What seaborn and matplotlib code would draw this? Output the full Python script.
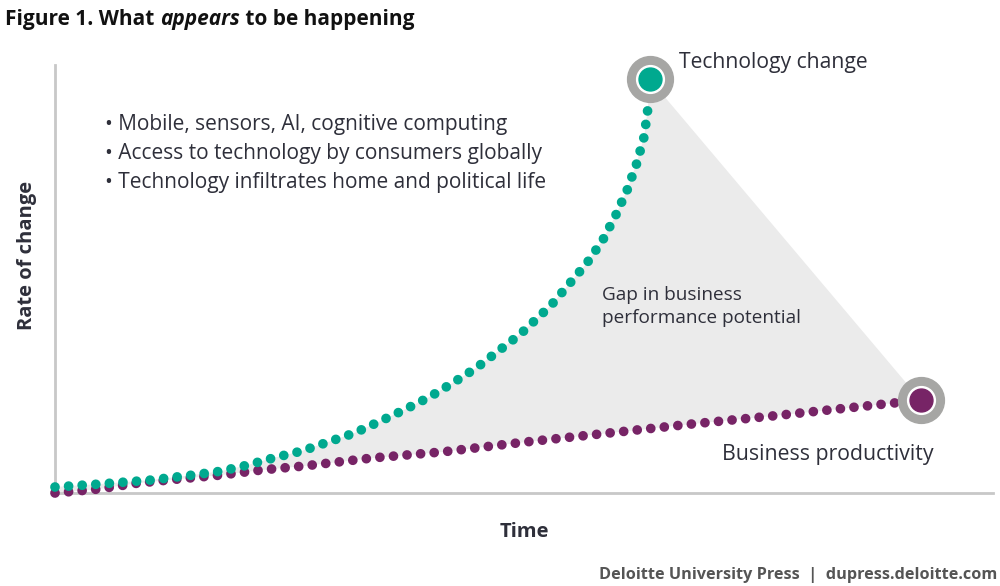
import matplotlib
matplotlib.use("Agg")
import matplotlib.pyplot as plt
import seaborn as sns

# values (time 0-100, rate 0-100)
tech_time = [0, 4.8, 10.1, 14.7, 17.7, 20.5, 23.3, 26.3, 29.1, 31.9, 34.5, 37.2,
             39.9, 42.4, 44.9, 47.4, 49.6, 52.9, 54.8, 56.7, 58.4, 59.8, 61.0,
             62.0, 62.8, 63.2, 63.4]
tech_rate = [1.4, 2.1, 3.0, 4.2, 5.1, 6.5, 8.2, 9.8, 11.9, 14.0, 16.6, 19.4,
             22.4, 25.7, 29.2, 33.4, 37.1, 43.9, 48.8, 53.7, 59.1, 65.0, 70.8,
             76.9, 83.2, 89.7, 96.7]
biz_time = [0, 4.5, 8.8, 13.3, 17.7, 22.1, 26.5, 33.9, 41.3, 50.1, 59.0, 67.8,
            76.5, 85.5, 92.3]
biz_rate = [0, 0.9, 2.3, 3.3, 4.2, 5.4, 6.3, 8.2, 9.6, 11.9, 14.0, 16.1,
            18.0, 20.1, 21.7]

bullets = ["• Mobile, sensors, AI, cognitive computing",
           "• Access to technology by consumers globally",
           "• Technology infiltrates home and political life"]

TEAL = "#00a98f"
PURPLE = "#772466"
RING = "#a6a6a4"
TXT = "#2e2f3a"

sns.set_style("white")
plt.rcParams["font.family"] = ["Open Sans", "DejaVu Sans"]

fig = plt.figure(figsize=(10, 5.86), dpi=100)
ax = fig.add_axes([0.055, 93 / 586, 0.938, 428 / 586])
ax.set_xlim(0, 100)
ax.set_ylim(0, 100)

# shaded gap between the two curves
ax.fill(tech_time + biz_time[::-1], tech_rate + biz_rate[::-1],
        color="#ebebeb", lw=0, zorder=1)

dots = (0, (0.001, 1.4))
sns.lineplot(x=biz_time, y=biz_rate, ax=ax, color=PURPLE, lw=7,
             linestyle=dots, dash_capstyle="round", estimator=None,
             sort=False, clip_on=False, zorder=3)
sns.lineplot(x=tech_time, y=tech_rate, ax=ax, color=TEAL, lw=7,
             linestyle=dots, dash_capstyle="round", estimator=None,
             sort=False, clip_on=False, zorder=4)

# end markers
for t, r, c in [(tech_time[-1], tech_rate[-1], TEAL), (biz_time[-1], biz_rate[-1], PURPLE)]:
    ax.plot(t, r, "o", ms=33, color=RING, zorder=5, clip_on=False)
    ax.plot(t, r, "o", ms=20, color="white", zorder=6, clip_on=False)
    ax.plot(t, r, "o", ms=16.5, color=c, zorder=7, clip_on=False)

# axes styling
for s in ["top", "right"]:
    ax.spines[s].set_visible(False)
for s in ["left", "bottom"]:
    ax.spines[s].set_color("#c8c8c8")
    ax.spines[s].set_linewidth(2)
ax.set_xticks([])
ax.set_yticks([])
ax.set_xlabel("Time", fontsize=14.5, fontweight="bold", color=TXT, labelpad=21)
fig.text(0.027, 1 - 255 / 586, "Rate of change", rotation=90, fontsize=14.5,
         fontweight="bold", color=TXT, ha="center", va="center")

# annotations
ax.text(66.5, 100.5, "Technology change", fontsize=15.2, color=TXT, va="center")
ax.text(71.1, 9.1, "Business productivity", fontsize=15.3, color=TXT, va="center")
ax.text(58.3, 43.5, "Gap in business\nperformance potential", fontsize=13.7,
        color=TXT, va="center", linespacing=1.36)
for i, b in enumerate(bullets):
    ax.text(5.3, 86.2 - i * 6.8, b, fontsize=15, color=TXT, va="center")

# title with italic word
renderer = fig.canvas.get_renderer()
x = 0.005
for part, style in [("Figure 1. What ", "normal"), ("appears", "italic"),
                    (" to be happening", "normal")]:
    t = fig.text(x, 1 - 19 / 586, part, fontsize=15, fontweight="bold",
                 style=style, color="#111111", va="center")
    bb = t.get_window_extent(renderer)
    x += bb.width / fig.bbox.width

fig.text(0.997, 1 - 575 / 586, "Deloitte University Press  |  dupress.deloitte.com",
         fontsize=11.7, fontweight="bold", color="#555555", ha="right", va="center")

fig.savefig("out.png", dpi=100)
